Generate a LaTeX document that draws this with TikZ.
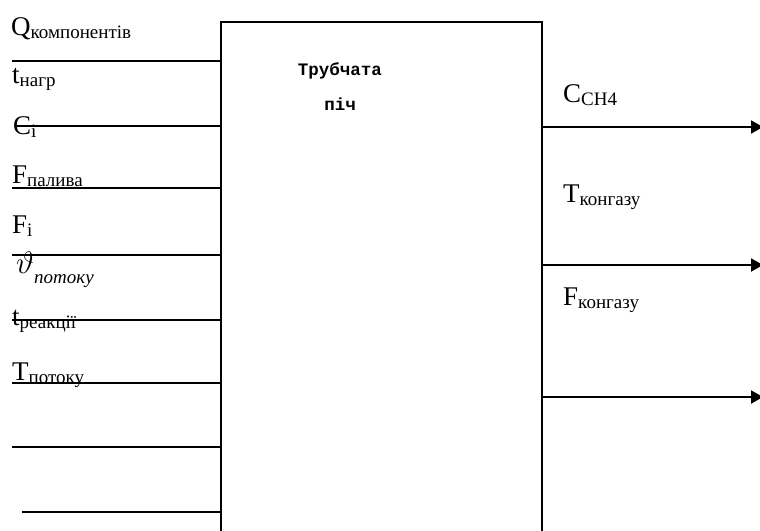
\documentclass[tikz,border=0pt]{standalone}
\usepackage{amsmath}
\usepackage{fontspec}
\setmainfont{Liberation Serif}
\newfontfamily\monob{Liberation Mono}
\usetikzlibrary{arrows.meta}
\newcommand\sbx[1]{\raisebox{-3pt}{\fontsize{19}{22}\selectfont #1}}
\begin{document}
\begin{tikzpicture}[x=1pt,y=-1pt,
  wire/.style={line width=2pt},
  outarrow/.style={line width=2pt,-{Triangle[length=12pt,width=13pt]}},
  lab/.style={anchor=base west,inner sep=0pt,font=\fontsize{27}{30}\selectfont},
  ctext/.style={anchor=base,inner sep=0pt,font=\monob\bfseries\fontsize{17.5}{20}\selectfont}]
\useasboundingbox (0,0) rectangle (760,530);
% block
\node[minimum width=321pt,minimum height=510pt,inner sep=0pt,anchor=north west] (box) at (221,22) {};
\draw[wire] (box.south west) -- (box.north west) -- (box.north east) -- (box.south east);
\node[ctext] (t1) at (340,75) {Трубчата};
\node[ctext] (t2) at (340,110) {піч};
% input free ends
\coordinate (i1) at (12,61);
\coordinate (i2) at (17,126);
\coordinate (i3) at (12,188);
\coordinate (i4) at (12,255);
\coordinate (i5) at (12,320);
\coordinate (i6) at (12,383);
\coordinate (i7) at (12,447);
\coordinate (i8) at (22,512);
\foreach \i in {1,...,8} {\draw[wire] (i\i) -- (i\i -| box.west);}
% outputs
\coordinate (o1) at (763,127);
\coordinate (o2) at (763,265);
\coordinate (o3) at (763,397);
\foreach \i in {1,2,3} {\draw[outarrow] (o\i -| box.east) -- (o\i);}
% input labels
\node[lab] (lq) at (11,35) {Q\sbx{компонентів}};
\node[lab] (lt) at (12,83) {t\sbx{нагр}};
\node[lab] (lc) at (13,134) {C\sbx{i}};
\node[lab] (lfp) at (12,183) {F\sbx{палива}};
\node[lab] (lfi) at (12,233) {F\sbx{i}};
\node[lab] (lth) at (16,273) {\scalebox{1.25}{$\vartheta$}\raisebox{-10pt}{\itshape\fontsize{19}{22}\selectfont потоку}};
\node[lab] (ltr) at (12,325) {t\sbx{реакції}};
\node[lab] (ltp) at (12,380) {T\sbx{потоку}};
% output labels
\node[lab] (lch) at (563,102) {C\sbx{CH4}};
\node[lab] (ltk) at (563,202) {T\sbx{конгазу}};
\node[lab] (lfk) at (563,305) {F\sbx{конгазу}};
\end{tikzpicture}
\end{document}
